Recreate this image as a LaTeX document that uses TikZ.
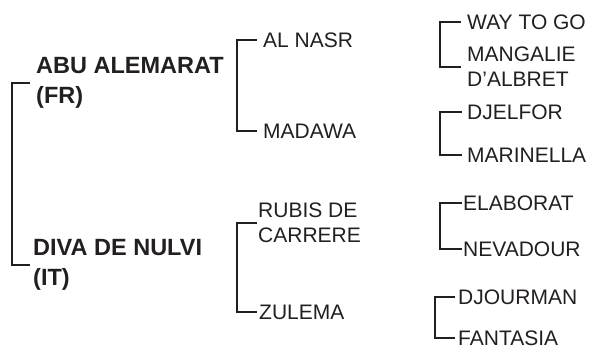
\documentclass[tikz,border=0pt]{standalone}
\usepackage{fontspec}
\setmainfont{Liberation Sans}
\definecolor{ink}{HTML}{231F20}

\begin{document}
\begin{tikzpicture}[x=1pt,y=-1pt,
    horse/.style={anchor=west,inner ysep=0pt,inner xsep=6pt,align=left,text=ink,
        font=\fontsize{21}{25}\selectfont},
    parent/.style={horse,font=\bfseries\fontsize{23.5}{30}\selectfont},
    link/.style={line width=1.6pt,draw=ink}]
    \useasboundingbox (0,0) rectangle (589,350);

    % x of the bracket stems
    \coordinate (v1) at (12,0);
    \coordinate (v2) at (237,0);
    \coordinate (v3) at (440,0);
    \coordinate (v4) at (435,0);

    % parents
    \node [parent] (abu)  at (30,83)  {ABU ALEMARAT\\(FR)};
    \node [parent,inner xsep=3pt] (diva) at (30,265) {DIVA DE NULVI\\(IT)};

    % second generation
    \node [horse] (alnasr) at (257,40)  {AL NASR};
    \node [horse] (madawa) at (257,131) {MADAWA};
    \node [horse,inner xsep=1pt] (rubis)  at (257,223) {RUBIS DE\\CARRERE};
    \node [horse,inner xsep=2pt] (zulema) at (257,312) {ZULEMA};

    % third generation
    \node [horse] (waytogo)   at (461,22)  {WAY TO GO};
    \node [horse] (mangalie)  at (461,67)  {MANGALIE\\D'ALBRET};
    \node [horse,inner xsep=5pt] (djelfor)   at (462,112) {DJELFOR};
    \node [horse,inner xsep=5pt] (marinella) at (462,155) {MARINELLA};
    \node [horse,inner xsep=1pt] (elaborat)  at (462,203) {ELABORAT};
    \node [horse,inner xsep=1pt] (nevadour)  at (462,249) {NEVADOUR};
    \node [horse,inner xsep=3pt] (djourman)  at (455,297) {DJOURMAN};
    \node [horse,inner xsep=3pt] (fantasia)  at (455,338) {FANTASIA};

    % brackets
    \draw [link] (abu.west) -- (abu.west -| v1) -- (diva.west -| v1) -- (diva.west);

    \draw [link] (alnasr.west) -- (alnasr.west -| v2) -- (madawa.west -| v2) -- (madawa.west);
    \draw [link] (rubis.west) -- (rubis.west -| v2) -- (zulema.west -| v2) -- (zulema.west);

    \draw [link] (waytogo.west) -- (waytogo.west -| v3) -- (mangalie.west -| v3) -- (mangalie.west);
    \draw [link] (djelfor.west) -- (djelfor.west -| v3) -- (marinella.west -| v3) -- (marinella.west);
    \draw [link] (elaborat.west) -- (elaborat.west -| v3) -- (nevadour.west -| v3) -- (nevadour.west);
    \draw [link] (djourman.west) -- (djourman.west -| v4) -- (fantasia.west -| v4) -- (fantasia.west);
\end{tikzpicture}
\end{document}
